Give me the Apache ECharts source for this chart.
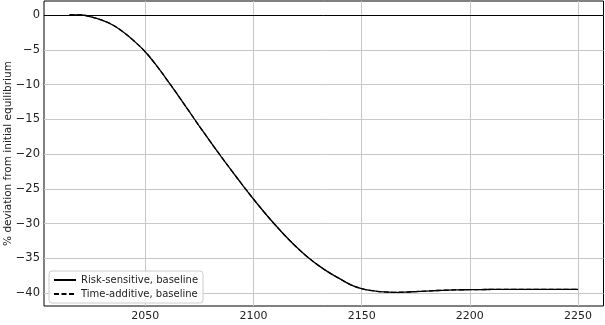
<!DOCTYPE html>
<html>
<head>
<meta charset="utf-8">
<script src="https://cdn.jsdelivr.net/npm/echarts@6/dist/echarts.min.js"></script>
<style>
html,body{margin:0;padding:0;background:#fff;}
#c{width:605px;height:325px;}
</style>
</head>
<body>
<div id="c"></div>
<script>
var years = [2015,2020,2025,2030,2035,2040,2045,2050,2055,2060,2065,2070,2075,2080,2085,2090,2095,2100,2105,2110,2115,2120,2125,2130,2135,2140,2145,2150,2155,2160,2165,2170,2175,2180,2185,2190,2195,2200,2205,2210,2215,2220,2225,2230,2235,2240,2245,2250];
var riskSensitive = [0.05,0.06,-0.25,-0.7,-1.4,-2.45,-3.75,-5.25,-7.15,-9.25,-11.45,-13.7,-15.95,-18.15,-20.3,-22.4,-24.45,-26.45,-28.35,-30.15,-31.85,-33.4,-34.8,-36.0,-37.05,-37.95,-38.8,-39.35,-39.65,-39.82,-39.88,-39.85,-39.78,-39.7,-39.62,-39.56,-39.52,-39.5,-39.48,-39.47,-39.46,-39.46,-39.45,-39.45,-39.45,-39.45,-39.45,-39.45];
var timeAdditive = [0.05,0.06,-0.25,-0.7,-1.4,-2.45,-3.75,-5.25,-7.15,-9.25,-11.45,-13.7,-15.95,-18.15,-20.3,-22.4,-24.45,-26.45,-28.35,-30.15,-31.85,-33.4,-34.8,-36.0,-37.05,-37.95,-38.8,-39.35,-39.65,-39.82,-39.88,-39.85,-39.78,-39.7,-39.62,-39.56,-39.52,-39.5,-39.48,-39.47,-39.46,-39.46,-39.45,-39.45,-39.45,-39.45,-39.45,-39.45];
var xTicks = [2050,2100,2150,2200,2250];
var yTicks = [-40,-35,-30,-25,-20,-15,-10,-5,0];
var seriesNames = ['Risk-sensitive, baseline','Time-additive, baseline'];
var yAxisTitle = '% deviation from initial equilibrium';

function pairs(xs, ys){ return xs.map(function(x,i){ return [x, ys[i]]; }); }

var chart = echarts.init(document.getElementById('c'), null, {renderer:'canvas'});
var font = 'DejaVu Sans';
chart.setOption({
  animation:false,
  backgroundColor:'#fff',
  grid:{left:44, right:1.5, top:1, bottom:19, show:true, borderColor:'#000', borderWidth:1, backgroundColor:'transparent',
    containLabel:false, outerBoundsMode:'none'},
  xAxis:{type:'value', min:2003.25, max:2261.75,
    axisLine:{show:false}, axisTick:{show:false, customValues:xTicks},
    axisLabel:{customValues:xTicks, color:'#222', fontFamily:font, fontSize:11, margin:5,
      formatter:function(v){ return String(v); }},
    splitLine:{show:true, lineStyle:{color:'#c8c8c8', width:1}}},
  yAxis:{type:'value', min:-41.85, max:2.05,
    name:yAxisTitle, nameLocation:'middle', nameGap:30, nameRotate:90, nameMoveOverlap:false,
    nameTextStyle:{color:'#222', fontFamily:font, fontSize:10.5},
    axisLine:{show:false}, axisTick:{show:false, customValues:yTicks},
    axisLabel:{customValues:yTicks, color:'#222', fontFamily:font, fontSize:11.5, margin:4,
      formatter:function(v){ return v < 0 ? '\u2212' + Math.abs(v) : String(v); }},
    splitLine:{show:true, lineStyle:{color:'#c8c8c8', width:1}}},
  legend:{orient:'vertical', left:49, bottom:22, itemWidth:22, itemHeight:10, itemGap:4,
    padding:[4,5,4,4], backgroundColor:'rgba(255,255,255,0.85)', borderColor:'#cccccc', borderWidth:1, borderRadius:3,
    textStyle:{color:'#222', fontFamily:font, fontSize:10},
    itemStyle:{opacity:0},
    data:seriesNames},
  series:[
    {name:seriesNames[0], type:'line', data:pairs(years, riskSensitive), smooth:0.4, symbol:'none',
      lineStyle:{color:'#000', width:1.3, type:'solid'}, itemStyle:{color:'#000'},
      markLine:{silent:true, symbol:'none', label:{show:false}, lineStyle:{color:'#000', width:1, type:'solid'}, data:[{yAxis:0}]}},
    {name:seriesNames[1], type:'line', data:pairs(years, timeAdditive), smooth:0.4, symbol:'none',
      lineStyle:{color:'#000', width:1.3, type:[5,2.5]}, itemStyle:{color:'#000'}}
  ]
});
</script>
</body>
</html>
